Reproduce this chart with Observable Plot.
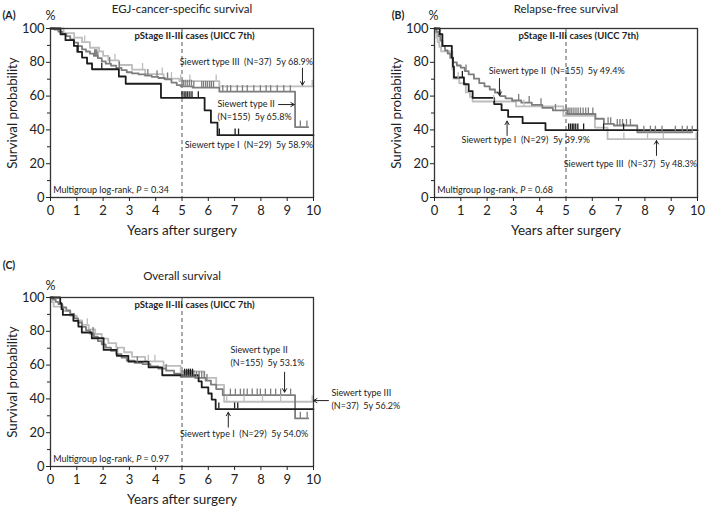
<!DOCTYPE html>
<html><head><meta charset="utf-8">
<script src="https://cdn.jsdelivr.net/npm/d3@7"></script>
<script src="https://cdn.jsdelivr.net/npm/@observablehq/plot@0.6"></script>
<style>
body{margin:0;background:#fff;}
#fig{position:relative;width:709px;height:507px;overflow:hidden;background:#fff;}
#fig > svg{position:absolute;overflow:visible;}
</style></head><body><div id="fig"></div>
<script>
// ---------- shared labels ----------
const groups = ["Siewert type I", "Siewert type II", "Siewert type III"];
const groupColors = ["#1c1c1c", "#7d7d7d", "#bdbdbd"];
const xTicks = [0, 1, 2, 3, 4, 5, 6, 7, 8, 9, 10];
const yTicks = [0, 20, 40, 60, 80, 100];
const yMinorTicks = [10, 30, 50, 70, 90];
const panelLetters = ["(A)", "(B)", "(C)"];
const panelTitles = ["EGJ-cancer-specific survival", "Relapse-free survival", "Overall survival"];
const xLabel = "Years after surgery";
const yLabel = "Survival probability";
const stageLabel = "pStage II-III cases (UICC 7th)";
const pValues = ["0.34", "0.68", "0.97"];

// ---------- Panel A: EGJ-cancer-specific survival ----------
const A_typeI_time = [0, 0.38, 0.57, 0.89, 1.02, 1.2, 1.39, 1.58, 2.6, 2.86, 4.2, 5.86, 6.1, 6.35, 10];
const A_typeI_surv = [100, 96.6, 93.1, 89.7, 86.2, 82.8, 79.3, 75.9, 71.6, 67.3, 59.0, 51.6, 44.3, 36.9, 36.9];
const A_typeI_cens = [1.05, 1.95, 5.0, 5.08, 5.15, 5.22, 5.3, 5.38, 5.62, 6.42, 7.02, 7.15];

const A_typeII_time = [0, 0.15, 0.3, 0.45, 0.6, 0.75, 0.9, 1.05, 1.2, 1.35, 1.5, 1.65, 1.8, 1.95, 2.1, 2.3, 2.5, 2.7, 2.9, 3.1, 3.35, 3.6, 3.85, 4.1, 4.35, 4.6, 4.8, 4.95, 5.4, 6.42, 9.3, 9.8];
const A_typeII_surv = [100, 99.4, 98.1, 96.8, 95.5, 93.5, 91.6, 89.6, 87.7, 86.4, 85.1, 83.8, 82.5, 80.5, 79.2, 78.0, 76.7, 75.4, 74.1, 73.4, 72.8, 72.1, 71.4, 70.7, 69.9, 68.0, 66.5, 65.8, 65.0, 62.6, 41.7, 41.7];
const A_typeII_cens = [1.68, 1.72, 1.76, 1.8, 2.25, 2.62, 3.7, 4.05, 4.45, 5.0, 5.05, 5.12, 5.2, 5.28, 5.36, 5.45, 5.75, 5.82, 5.9, 5.97, 6.05, 6.12, 6.2, 6.55, 6.72, 6.85, 7.1, 7.3, 7.48, 7.73, 7.98, 8.2, 8.37, 8.62, 8.87, 9.12, 9.5, 9.75];

const A_typeIII_time = [0, 0.5, 0.9, 1.2, 1.5, 1.85, 2.0, 2.2, 2.6, 3.1, 3.6, 4.3, 4.9, 6.42, 10];
const A_typeIII_surv = [100, 97.3, 94.6, 91.9, 88.6, 86.5, 83.8, 81.1, 78.4, 75.7, 73.0, 70.3, 68.9, 65.8, 65.8];
const A_typeIII_cens = [1.3, 2.45, 3.5, 4.25, 4.45, 4.6, 4.95, 5.3, 6.3, 9.95];

// ---------- Panel B: Relapse-free survival ----------
const B_typeI_time = [0, 0.2, 0.3, 0.66, 0.7, 0.74, 1.12, 1.3, 1.45, 2.27, 2.55, 2.8, 3.35, 4.22, 10];
const B_typeI_surv = [100, 96.6, 89.7, 82.8, 77.5, 71.0, 67.0, 63.0, 58.9, 55.3, 51.7, 47.7, 44.0, 39.9, 39.9];
const B_typeI_cens = [1.06, 5.1, 5.17, 5.24, 5.3, 5.37, 5.45, 5.67, 6.43, 7.19];

const B_typeII_time = [0, 0.08, 0.15, 0.22, 0.3, 0.4, 0.5, 0.6, 0.7, 0.85, 1.0, 1.15, 1.3, 1.5, 1.7, 1.9, 2.1, 2.3, 2.5, 2.7, 2.95, 3.3, 3.7, 4.1, 4.5, 5.05, 6.12, 6.44, 6.82, 7.71, 9.8];
const B_typeII_surv = [100, 98.0, 95.5, 92.9, 89.7, 87.1, 85.2, 82.6, 80.0, 78.1, 76.8, 74.8, 72.9, 70.3, 67.7, 65.8, 63.9, 62.0, 60.0, 58.7, 57.4, 56.1, 54.8, 53.0, 51.5, 49.4, 46.6, 43.6, 42.6, 38.6, 38.6];
const B_typeII_cens = [1.2, 2.5, 3.2, 3.6, 4.05, 4.6, 5.0, 5.08, 5.15, 5.22, 5.3, 5.38, 5.46, 5.55, 5.65, 5.75, 5.85, 6.02, 6.6, 6.7, 6.95, 7.05, 7.15, 7.3, 7.45, 7.96, 8.21, 8.4, 8.65, 9.16, 9.42, 9.61, 9.8];

const B_typeIII_time = [0, 0.04, 0.08, 0.12, 0.18, 0.25, 0.68, 0.72, 0.94, 1.19, 1.35, 1.45, 3.1, 4.9, 6.1, 6.58, 9.95];
const B_typeIII_surv = [100, 97.3, 94.6, 91.9, 89.2, 86.5, 75.7, 70.3, 67.6, 62.2, 59.5, 56.8, 53.9, 48.3, 41.4, 34.5, 34.5];
const B_typeIII_cens = [0.9, 2.25, 3.4, 7.2, 8.1, 8.7, 9.95];

// ---------- Panel C: Overall survival ----------
const C_typeI_time = [0, 0.37, 0.42, 0.47, 0.87, 1.06, 1.19, 1.57, 2.02, 2.52, 2.96, 3.73, 4.25, 5.63, 5.75, 6.0, 6.13, 6.28, 10];
const C_typeI_surv = [100, 96.6, 93.1, 89.7, 86.2, 82.8, 79.3, 75.9, 69.0, 65.5, 62.1, 58.6, 54.0, 50.4, 46.8, 43.2, 39.6, 34.0, 34.0];
const C_typeI_cens = [5.1, 5.18, 5.25, 5.32, 5.4, 6.4, 7.0, 7.12];

const C_typeII_time = [0, 0.1, 0.2, 0.3, 0.45, 0.6, 0.75, 0.9, 1.05, 1.2, 1.35, 1.5, 1.65, 1.8, 1.95, 2.1, 2.3, 2.5, 2.7, 2.9, 3.2, 3.5, 3.8, 4.1, 4.4, 4.7, 4.95, 5.5, 5.9, 6.1, 6.3, 6.55, 9.3, 9.8];
const C_typeII_surv = [100, 98.7, 97.4, 96.1, 94.2, 92.3, 90.3, 87.7, 85.2, 82.6, 80.6, 78.7, 76.8, 74.2, 72.3, 70.3, 68.4, 66.5, 64.5, 62.6, 61.3, 60.6, 59.3, 58.0, 56.7, 55.0, 53.1, 52.4, 50.8, 48.5, 45.8, 42.2, 28.5, 28.5];
const C_typeII_cens = [1.62, 2.55, 3.3, 4.4, 5.0, 5.07, 5.14, 5.21, 5.28, 5.36, 5.45, 5.55, 5.65, 5.75, 5.85, 5.95, 6.84, 7.03, 7.22, 7.35, 7.48, 7.67, 7.86, 7.98, 8.17, 8.37, 8.56, 8.75, 9.13, 9.5, 9.76];

const C_typeIII_time = [0, 0.05, 0.12, 0.5, 0.75, 1.0, 1.2, 1.45, 1.7, 1.95, 2.2, 2.5, 2.8, 3.1, 3.6, 4.3, 4.95, 5.85, 6.3, 6.6, 10];
const C_typeIII_surv = [100, 97.3, 94.6, 91.9, 89.2, 86.5, 83.8, 81.1, 78.4, 75.7, 73.0, 70.3, 67.6, 64.9, 62.2, 59.5, 56.2, 52.5, 48.3, 38.3, 38.3];
const C_typeIII_cens = [1.4, 3.72, 3.97, 6.7, 7.36, 8.06, 8.75, 9.95];

// ---------- helpers ----------
function stepRows(time, surv, g) {
  return time.map((t, i) => ({t, s: surv[i], g}));
}
function survAt(time, surv, t) {
  let v = surv[0];
  for (let i = 0; i < time.length; i++) if (time[i] <= t) v = surv[i];
  return v;
}
function censRows(cens, time, surv, g) {
  return cens.map(t => ({t, s: survAt(time, surv, t), g}));
}

const FONT = "Lato, 'Open Sans', sans-serif";
const ANN = 9;

function makePanel(cfg) {
  const order = [2, 1, 0]; // draw type III, II, then I on top
  const lineRows = [], cRows = [];
  for (const k of order) {
    const c = cfg.curves[k];
    lineRows.push(...stepRows(c.time, c.surv, groups[k]));
    cRows.push(...censRows(c.cens, c.time, c.surv, groups[k]));
  }
  const marks = [
    Plot.ruleX([5], {stroke: "#555", strokeDasharray: "4,3", strokeWidth: 1}),
    Plot.line(lineRows, {x: "t", y: "s", z: "g", stroke: "g", curve: "step-after", strokeWidth: 1.8}),
    Plot.ruleX(cRows, {x: "t", y1: "s", y2: d => d.s + 3.6, stroke: "g", strokeWidth: 1.3}),
    Plot.frame({stroke: "#333", strokeWidth: 1.3}),
    Plot.axisX({ticks: xTicks, tickSize: 4, tickPadding: 4, fontSize: 13, label: null, tickFormat: d => String(d)}),
    Plot.axisY({ticks: yTicks, tickSize: 4, tickPadding: 2, fontSize: 13, label: null, tickFormat: d => String(d)}),
    Plot.axisY({ticks: yMinorTicks, tickSize: 3, label: null, tickFormat: () => ""}),
    Plot.text([xLabel], {text: d => d, frameAnchor: "bottom", textAnchor: "middle", lineAnchor: "middle", dy: 33, fontSize: 13.5}),
    Plot.text([yLabel], {text: d => d, frameAnchor: "left", textAnchor: "middle", lineAnchor: "middle", dx: -38, rotate: -90, fontSize: 13.3}),
    Plot.text([cfg.title], {text: d => d, frameAnchor: "top", textAnchor: "middle", lineAnchor: "middle", dy: cfg.titleDy, fontSize: 11.5}),
    Plot.text([cfg.letter], {text: d => d, frameAnchor: "top-left", textAnchor: "middle", lineAnchor: "middle", dx: cfg.letterDx, dy: cfg.letterDy, fontSize: 10.5, fontWeight: "bold"}),
    Plot.text(["%"], {text: d => d, frameAnchor: "top-left", textAnchor: "middle", lineAnchor: "middle", dx: cfg.pctDx, dy: cfg.pctDy, fontSize: 12.5}),
    Plot.text([stageLabel], {text: d => d, x: 5.48, y: 95.8, textAnchor: "middle", lineAnchor: "middle", fontSize: 9.5, fontWeight: "bold"}),
    Plot.text(["Multigroup log-rank, P = " + cfg.p], {text: d => d, x: 0.1, y: 4.3, textAnchor: "start", lineAnchor: "middle", fontSize: ANN}),
    Plot.text(cfg.notesStart, {x: "x", y: "y", text: "text", textAnchor: "start", lineAnchor: "middle", fontSize: ANN, fill: "#222"}),
    Plot.text(cfg.notesEnd, {x: "x", y: "y", text: "text", textAnchor: "end", lineAnchor: "middle", fontSize: ANN, fill: "#222"}),
    Plot.arrow(cfg.arrows, {x1: "x1", y1: "y1", x2: "x2", y2: "y2", stroke: "#222", strokeWidth: 1, headLength: 6, bend: 0})
  ];
  const svg = Plot.plot({
    width: cfg.width, height: cfg.height,
    marginLeft: cfg.ml, marginRight: cfg.mr, marginTop: cfg.mt, marginBottom: cfg.mb,
    x: {domain: [0, 10]},
    y: {domain: [0, 100]},
    color: {domain: groups, range: groupColors},
    style: {fontFamily: FONT, background: "transparent", color: "#222", overflow: "visible"},
    marks
  });
  svg.style.left = cfg.left + "px";
  svg.style.top = cfg.top + "px";
  // italic P
  d3.select(svg).selectAll("text").each(function () {
    const el = d3.select(this);
    const s = el.text();
    if (s.startsWith("Multigroup log-rank")) {
      el.text(null);
      el.append("tspan").text("Multigroup log-rank, ");
      el.append("tspan").attr("font-style", "italic").text("P");
      el.append("tspan").text(" = " + cfg.p);
    }
  });
  return svg;
}

const nb = "\u00a0\u00a0";
const fig = document.getElementById("fig");

fig.appendChild(makePanel({
  left: 0, top: 0, width: 355, height: 245, ml: 50, mr: 42, mt: 28, mb: 48,
  title: panelTitles[0], titleDy: -19.5, letter: panelLetters[0], letterDx: -41.5, letterDy: -13,
  pctDx: 0, pctDy: -13, p: pValues[0],
  curves: [
    {time: A_typeI_time, surv: A_typeI_surv, cens: A_typeI_cens},
    {time: A_typeII_time, surv: A_typeII_surv, cens: A_typeII_cens},
    {time: A_typeIII_time, surv: A_typeIII_surv, cens: A_typeIII_cens}
  ],
  notesStart: [
    {x: 6.35, y: 55, text: "Siewert type II"},
    {x: 6.35, y: 47.4, text: "(N=155)" + nb + "5y 65.8%"}
  ],
  notesEnd: [
    {x: 9.98, y: 80, text: "Siewert type III" + nb + "(N=37)" + nb + "5y 68.9%"},
    {x: 9.98, y: 30.8, text: "Siewert type I" + nb + "(N=29)" + nb + "5y 58.9%"}
  ],
  arrows: [
    {x1: 9.58, y1: 76.5, x2: 9.58, y2: 66.5},
    {x1: 8.67, y1: 55, x2: 9.27, y2: 55}
  ]
}));

fig.appendChild(makePanel({
  left: 355, top: 0, width: 354, height: 245, ml: 79, mr: 12, mt: 28, mb: 48,
  title: panelTitles[1], titleDy: -19.5, letter: panelLetters[1], letterDx: -36.5, letterDy: -13,
  pctDx: -1, pctDy: -13, p: pValues[1],
  curves: [
    {time: B_typeI_time, surv: B_typeI_surv, cens: B_typeI_cens},
    {time: B_typeII_time, surv: B_typeII_surv, cens: B_typeII_cens},
    {time: B_typeIII_time, surv: B_typeIII_surv, cens: B_typeIII_cens}
  ],
  notesStart: [
    {x: 2.06, y: 74.7, text: "Siewert type II" + nb + "(N=155)" + nb + "5y 49.4%"},
    {x: 1.03, y: 33.7, text: "Siewert type I" + nb + "(N=29)" + nb + "5y 39.9%"}
  ],
  notesEnd: [
    {x: 9.98, y: 20, text: "Siewert type III" + nb + "(N=37)" + nb + "5y 48.3%"}
  ],
  arrows: [
    {x1: 2.47, y1: 70.4, x2: 2.47, y2: 60.4},
    {x1: 2.76, y1: 36.7, x2: 2.76, y2: 45.2},
    {x1: 8.44, y1: 24.9, x2: 8.44, y2: 33.7}
  ]
}));

fig.appendChild(makePanel({
  left: 0, top: 250, width: 420, height: 257, ml: 50, mr: 107, mt: 47, mb: 41,
  title: panelTitles[2], titleDy: -21, letter: panelLetters[2], letterDx: -41.5, letterDy: -32,
  pctDx: 0, pctDy: -12, p: pValues[2],
  curves: [
    {time: C_typeI_time, surv: C_typeI_surv, cens: C_typeI_cens},
    {time: C_typeII_time, surv: C_typeII_surv, cens: C_typeII_cens},
    {time: C_typeIII_time, surv: C_typeIII_surv, cens: C_typeIII_cens}
  ],
  notesStart: [
    {x: 6.84, y: 68.6, text: "Siewert type II"},
    {x: 6.84, y: 61, text: "(N=155)" + nb + "5y 53.1%"},
    {x: 10.68, y: 43.4, text: "Siewert type III"},
    {x: 10.68, y: 35.5, text: "(N=37)" + nb + "5y 56.2%"}
  ],
  notesEnd: [
    {x: 9.8, y: 19, text: "Siewert type I" + nb + "(N=29)" + nb + "5y 54.0%"}
  ],
  arrows: [
    {x1: 8.9, y1: 55.8, x2: 8.9, y2: 44},
    {x1: 10.57, y1: 39, x2: 10.0, y2: 39},
    {x1: 6.76, y1: 23.3, x2: 6.76, y2: 32.1}
  ]
}));
</script>
</body></html>
